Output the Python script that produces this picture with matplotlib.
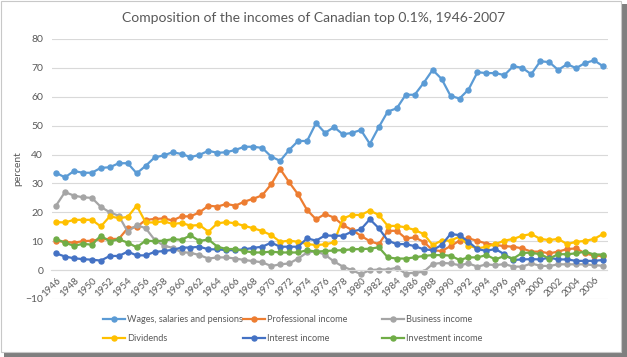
import numpy as np
import matplotlib
matplotlib.use("Agg")
import matplotlib.pyplot as plt
from matplotlib.patches import Rectangle

plt.rcParams['font.family'] = ['Lato', 'DejaVu Sans']

# Data (percent of income, top 0.1%)
years = list(range(1946, 2008))

wages = [33.7, 32.1, 34.3, 33.7, 33.7, 35.4, 35.6, 37.0, 37.0, 33.5,
         36.1, 39.0, 39.7, 40.8, 40.2, 39.1, 39.9, 41.3, 40.6, 40.8,
         41.6, 42.7, 42.7, 42.3, 39.3, 37.8, 41.6, 44.7, 44.7, 50.9,
         47.5, 49.5, 47.0, 47.5, 48.5, 43.7, 49.5, 54.9, 56.0, 60.7,
         60.7, 64.8, 69.3, 66.2, 60.3, 59.4, 62.5, 68.5, 68.2, 68.2,
         67.5, 70.6, 70.0, 67.8, 72.3, 72.0, 69.3, 71.3, 69.9, 71.7,
         72.6, 70.6]

professional = [10.1, 9.8, 9.5, 10.0, 10.2, 10.7, 10.8, 10.8, 14.5, 14.9,
                17.4, 17.7, 17.9, 17.2, 18.6, 18.6, 20.0, 22.3, 22.0, 22.9,
                22.3, 23.7, 24.7, 25.9, 29.7, 35.0, 30.4, 26.2, 20.8, 17.6,
                19.4, 18.2, 15.6, 13.9, 11.9, 10.0, 9.0, 13.6, 13.6, 11.0,
                11.3, 9.8, 6.9, 6.6, 8.3, 10.2, 11.0, 10.1, 9.2, 8.7,
                8.3, 8.1, 7.5, 6.4, 6.4, 5.8, 6.4, 7.3, 7.5, 5.8,
                5.0, 4.9]

business = [22.3, 27.0, 25.8, 25.2, 25.0, 21.9, 20.0, 18.8, 13.3, 15.6,
            14.5, 10.5, 8.5, 7.7, 6.2, 6.0, 5.2, 4.0, 4.4, 4.4,
            4.0, 3.5, 3.1, 2.7, 1.4, 2.0, 2.3, 4.0, 6.1, 6.5,
            5.3, 3.0, 1.2, 0.0, -1.4, 0.0, 0.2, 0.2, 0.8, -1.2,
            -0.9, -0.6, 2.1, 2.5, 2.3, 1.7, 2.3, 1.2, 2.0, 1.7,
            2.1, 1.2, 1.2, 2.3, 1.5, 1.4, 2.0, 2.0, 2.0, 2.0,
            1.7, 1.5]

dividends = [16.6, 16.5, 17.4, 17.4, 17.4, 15.1, 18.6, 18.0, 18.4, 22.3,
             16.5, 16.5, 16.9, 16.0, 16.3, 15.4, 15.6, 13.3, 16.2, 16.6,
             16.2, 15.3, 14.5, 13.5, 12.1, 9.8, 10.2, 9.8, 9.0, 8.7,
             8.9, 9.6, 17.9, 19.1, 19.1, 20.6, 19.1, 15.3, 15.3, 14.8,
             13.9, 12.5, 8.7, 10.2, 10.2, 11.6, 8.5, 7.5, 8.1, 9.0,
             10.2, 10.8, 11.9, 12.5, 10.8, 10.4, 10.8, 9.0, 9.8, 10.1,
             10.8, 12.5]

interest = [5.8, 4.7, 4.1, 3.8, 3.6, 3.3, 4.9, 4.9, 6.4, 5.1,
            5.1, 6.3, 6.6, 7.0, 7.8, 7.8, 8.1, 7.2, 7.2, 6.9,
            6.9, 7.2, 7.7, 8.1, 9.5, 8.1, 8.1, 8.1, 11.0, 10.2,
            12.0, 11.9, 11.9, 13.3, 14.1, 17.6, 14.5, 10.2, 9.0, 9.0,
            8.3, 7.2, 6.9, 8.7, 12.5, 12.1, 9.8, 7.2, 6.7, 7.3,
            5.5, 3.5, 3.7, 3.8, 3.7, 4.3, 3.7, 3.7, 3.2, 3.2,
            3.2, 3.5]

investment = [10.8, 9.5, 8.4, 9.1, 8.8, 11.9, 9.9, 10.7, 9.5, 7.9,
              10.2, 10.0, 10.2, 10.7, 10.5, 12.0, 10.1, 10.6, 8.1, 7.3,
              7.3, 6.6, 6.1, 6.1, 6.4, 6.1, 6.1, 6.1, 6.9, 6.4,
              6.6, 6.8, 6.9, 7.2, 7.3, 7.4, 7.9, 4.4, 4.0, 4.0,
              4.4, 4.9, 5.2, 5.2, 5.0, 3.5, 4.4, 4.4, 5.2, 3.7,
              4.9, 4.0, 6.0, 6.0, 5.5, 4.0, 5.5, 5.5, 5.8, 6.4,
              5.4, 5.4]

series = [("Wages, salaries and pensions", wages, "#5B9BD5"),
          ("Professional income", professional, "#ED7D31"),
          ("Business income", business, "#A5A5A5"),
          ("Dividends", dividends, "#FFC000"),
          ("Interest income", interest, "#4472C4"),
          ("Investment income", investment, "#70AD47")]

fig = plt.figure(figsize=(6.27, 3.57), dpi=100)

# screenshot style frame with a drop shadow
fig.patches.append(Rectangle((4 / 627, 0), 623 / 627, 1 - 4 / 357,
                             transform=fig.transFigure, facecolor="#7f7f7f",
                             edgecolor="none", zorder=-3))
fig.patches.append(Rectangle((0.5 / 627, 5 / 357), 620 / 627, 351 / 357,
                             transform=fig.transFigure, facecolor="white",
                             edgecolor="#c8c8c8", linewidth=0.8, zorder=-2))

ax = fig.add_axes([51.5 / 627, 1 - 299 / 357, 556 / 627, 260 / 357])
ax.set_facecolor("none")

lines = []
for name, vals, col in series:
    ln, = ax.plot(years, vals, color=col, linewidth=1.6, marker="o",
                  markersize=3.6, label=name, solid_joinstyle="round")
    lines.append(ln)

ax.set_xlim(1945.5, 2007.5)
ax.set_ylim(-10, 80)
ax.set_yticks(np.arange(-10, 81, 10))
ax.grid(axis="y", color="#d9d9d9", linewidth=0.8)
ax.set_axisbelow(True)
for s in ["top", "right", "left"]:
    ax.spines[s].set_visible(False)
ax.spines["bottom"].set_position(("data", 0))
ax.spines["bottom"].set_color("#d9d9d9")
ax.spines["bottom"].set_linewidth(0.8)

ax.set_xticks(years[::2])
ax.set_xticklabels([str(y) for y in years[::2]], rotation=45, ha="right",
                   rotation_mode="anchor", fontsize=7, color="#595959")
ax.tick_params(axis="x", length=0, pad=4)
ax.tick_params(axis="y", length=0, pad=6, labelsize=7.5, labelcolor="#595959")

ax.set_ylabel("percent", fontsize=7.5, color="#595959", labelpad=2)

fig.text(0.5, 1 - 18 / 357, "Composition of the incomes of Canadian top 0.1%, 1946-2007",
         ha="center", va="center", fontsize=10, color="#595959")

# legend: three equal-width columns, filled row by row like Excel
col_x = [103, 243, 382]
for i, x in enumerate(col_x):
    leg = fig.legend([lines[i], lines[i + 3]],
                     [series[i][0], series[i + 3][0]],
                     loc="upper left", bbox_to_anchor=(x / 627, 1 - 315 / 357),
                     ncol=1, frameon=False, fontsize=6.6, handlelength=2.4,
                     handletextpad=0.2, labelspacing=1.1,
                     borderaxespad=0, borderpad=0.0)
    for t in leg.get_texts():
        t.set_color("#595959")

fig.savefig("out.png", dpi=100)
